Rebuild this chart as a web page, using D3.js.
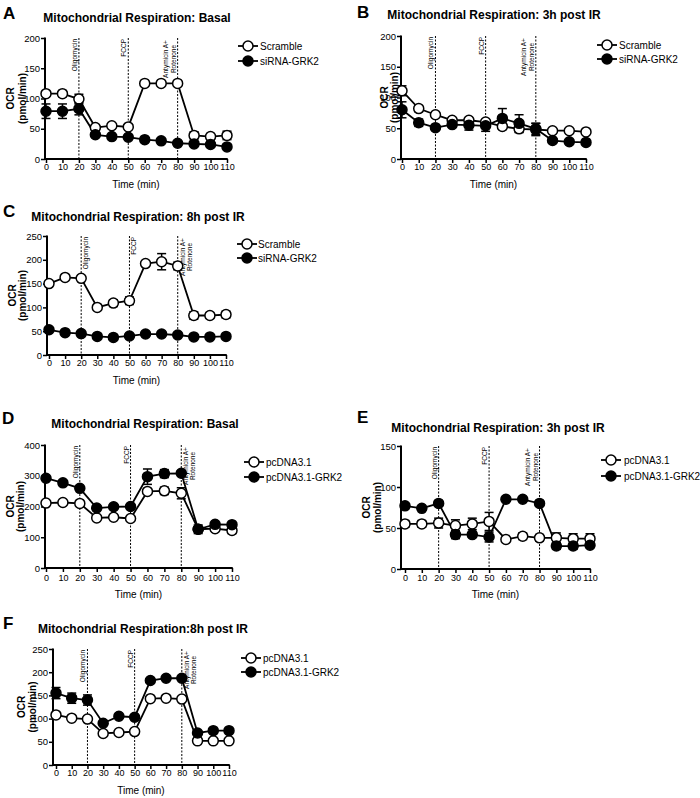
<!DOCTYPE html>
<html><head><meta charset="utf-8">
<script src="https://cdn.jsdelivr.net/npm/d3@7"></script>
<style>
body{margin:0;background:#fff;}
text{font-family:Arial,"Liberation Sans",Helvetica,sans-serif;fill:#000;}
</style></head>
<body><svg id="fig" width="700" height="798"></svg>
<script>
// ---------- DATA ----------
const times = [0,10,20,30,40,50,60,70,80,90,100,110];
const injectTimes = [20,50,80];
const injectLabels = [["Oligomycin"],["FCCP"],["Antymicin A+","Rotenone"]];
const panelLetters = ["A","B","C","D","E","F"];
const panelTitles = [
  "Mitochondrial Respiration: Basal",
  "Mitochondrial Respiration: 3h post IR",
  "Mitochondrial Respiration: 8h post IR",
  "Mitochondrial Respiration: Basal",
  "Mitochondrial Respiration: 3h post IR",
  "Mitochondrial Respiration:8h post IR"
];
const siNames = ["Scramble","siRNA-GRK2"];
const pcNames = ["pcDNA3.1","pcDNA3.1-GRK2"];
const yMaxes = [200,200,250,400,150,250];
const yStepsList = [50,50,50,100,50,50];

const scrambleBasal    = [108,108,99,52,55,53,125,125,125,39,37,39];
const scrambleBasalErr = [4,5,8,4,3,3,2,2,2,6,5,7];
const siGrk2Basal      = [79,79,83,40,37,36,32,30,26,25,24,20];
const siGrk2BasalErr   = [12,12,10,3,2,2,2,2,2,2,2,2];

const scramble3h    = [111,82,72,63,63,60,53,49,48,46,46,44];
const scramble3hErr = [8,5,3,3,3,3,5,6,10,2,2,2];
const siGrk23h      = [80,59,51,56,55,54,66,58,49,30,28,27];
const siGrk23hErr   = [13,6,3,4,8,9,16,14,9,2,2,2];

const scramble8h    = [150,163,161,100,109,114,192,196,187,83,83,85];
const scramble8hErr = [4,3,3,3,7,8,3,17,8,8,6,7];
const siGrk28h      = [53,47,45,39,37,40,44,44,42,38,38,39];
const siGrk28hErr   = [2,2,2,2,2,2,2,2,2,2,2,2];

const pcBasal     = [211,213,210,163,165,161,249,251,243,126,128,122];
const pcBasalErr  = [4,4,4,4,4,4,6,12,18,8,8,10];
const grkBasal    = [292,277,259,195,199,200,297,307,308,126,142,141];
const grkBasalErr = [5,5,5,4,4,4,25,13,8,14,5,5];

const pc3h     = [55,55,56,53,55,58,36,40,38,38,37,37];
const pc3hErr  = [4,4,6,7,7,11,2,4,4,6,6,6];
const grk3h    = [77,74,80,42,42,39,85,85,80,28,28,29];
const grk3hErr = [2,2,2,5,3,6,2,2,2,4,4,3];

const pc8h     = [108,101,99,68,70,72,143,144,142,52,52,52];
const pc8hErr  = [5,3,3,2,2,2,3,3,3,2,2,2];
const grk8h    = [155,144,140,90,105,103,182,187,187,69,74,74];
const grk8hErr = [12,11,11,3,3,3,3,3,3,3,3,3];

const seriesByPanel = [
  [[scrambleBasal,scrambleBasalErr],[siGrk2Basal,siGrk2BasalErr]],
  [[scramble3h,scramble3hErr],[siGrk23h,siGrk23hErr]],
  [[scramble8h,scramble8hErr],[siGrk28h,siGrk28hErr]],
  [[pcBasal,pcBasalErr],[grkBasal,grkBasalErr]],
  [[pc3h,pc3hErr],[grk3h,grk3hErr]],
  [[pc8h,pc8hErr],[grk8h,grk8hErr]]
];
const namesByPanel = [siNames,siNames,siNames,pcNames,pcNames,pcNames];

// ---------- LAYOUT ----------
const layout = [
  {left:45,x0:46,x1:227,top:38,bottom:159,letter:[3,19],title:[137,22],time:184,xPad:1,ocr:[10,22],leg:[248,260,46,61],sides:["l","l","l"]},
  {left:401,x0:402,x1:586,top:36,bottom:159,letter:[357,18],title:[494,19],time:184,xPad:1,ocr:[384,394],leg:[607,619,45,59],sides:["l","l","l"]},
  {left:47,x0:49,x1:226,top:236,bottom:355,letter:[3,217],title:[138,221],time:380,xPad:1,ocr:[12,22],leg:[247,258,244,258],sides:["r","r","r"]},
  {left:45,x0:46,x1:232,top:445,bottom:568,letter:[2,424],title:[145,428],time:594,xPad:3,ocr:[10,20],leg:[254,266,462,477],sides:["l","l","r"]},
  {left:401,x0:405,x1:590,top:446,bottom:569,letter:[357,423],title:[498,432],time:594,xPad:2,ocr:[366,377],leg:[611,624,460,476],sides:["l","l","l"]},
  {left:53,x0:56,x1:229,top:649,bottom:765,letter:[3,629],title:[143,633],time:790,xPad:1,ocr:[21,32],leg:[251,263,658,672],sides:["l","l","r"]}
];

const svg = d3.select("#fig");
const R = 5;

function drawPanel(i){
  const L = layout[i];
  const g = svg.append("g");
  const x = d3.scaleLinear().domain([0,110]).range([L.x0,L.x1]);
  const y = d3.scaleLinear().domain([0,yMaxes[i]]).range([L.bottom,L.top]);
  const yt = d3.range(0,yMaxes[i]+1,yStepsList[i]);

  g.append("text").attr("x",L.letter[0]).attr("y",L.letter[1]).attr("font-size",17).attr("font-weight","bold").text(panelLetters[i]);
  g.append("text").attr("x",L.title[0]).attr("y",L.title[1]).attr("text-anchor","middle").attr("font-size",12).attr("font-weight","bold").text(panelTitles[i]);

  const ya = g.append("g").attr("transform",`translate(${L.left},0)`)
    .call(d3.axisLeft(y).tickValues(yt).tickSize(4).tickPadding(1).tickSizeOuter(0));
  ya.select(".domain").remove();
  ya.selectAll("line").attr("stroke-width",1.5);
  ya.selectAll("text").attr("font-size",9.5).attr("font-family","Arial, 'Liberation Sans', sans-serif");
  g.append("line").attr("x1",L.left).attr("x2",L.left).attr("y1",y(yMaxes[i])-0.5).attr("y2",L.bottom+1).attr("stroke","#000").attr("stroke-width",2);

  const xa = g.append("g").attr("transform",`translate(0,${L.bottom})`)
    .call(d3.axisBottom(x).tickValues(times).tickSize(4).tickPadding(L.xPad).tickSizeOuter(0));
  xa.select(".domain").remove();
  xa.selectAll("line").attr("stroke-width",1.5);
  xa.selectAll("text").attr("font-size",9).attr("font-family","Arial, 'Liberation Sans', sans-serif");
  g.append("line").attr("x1",L.left-1).attr("x2",x(110)+0.75).attr("y1",L.bottom).attr("y2",L.bottom).attr("stroke","#000").attr("stroke-width",2);

  const my = (L.top+L.bottom)/2;
  g.append("text").attr("transform",`translate(${L.ocr[0]+4},${my}) rotate(-90)`).attr("text-anchor","middle").attr("font-size",10).attr("font-weight","bold").text("OCR");
  g.append("text").attr("transform",`translate(${L.ocr[1]+4},${my}) rotate(-90)`).attr("text-anchor","middle").attr("font-size",10).attr("font-weight","bold").text("(pmol/min)");
  g.append("text").attr("x",(L.left+x(110))/2).attr("y",L.time+3.5).attr("text-anchor","middle").attr("font-size",10).text("Time (min)");

  injectTimes.forEach((t,k)=>{
    const lx = x(t);
    g.append("line").attr("x1",lx).attr("x2",lx).attr("y1",L.top).attr("y2",L.bottom)
      .attr("stroke","#000").attr("stroke-width",1).attr("stroke-dasharray","2,1.5");
    const lines = injectLabels[k];
    lines.forEach((s,j)=>{
      let bx;
      if(L.sides[k]==="l") bx = lx - 2 - (lines.length-1-j)*8;
      else bx = lx + 7 + j*7;
      g.append("text").attr("transform",`translate(${bx},${L.top+1}) rotate(-90)`)
        .attr("text-anchor",lines.length>1?"middle":"end").attr("font-size",6.5)
        .attr("dx", lines.length>1 ? -20 : 0)
        .text(s);
    });
  });

  const ser = seriesByPanel[i];
  const line = d3.line().x((d,k)=>x(times[k])).y(d=>y(d));
  ser.forEach(([vals])=>{
    g.append("path").datum(vals).attr("d",line).attr("fill","none").attr("stroke","#000").attr("stroke-width",1.8);
  });
  ser.forEach(([vals,errs])=>{
    vals.forEach((v,k)=>{
      const cx = x(times[k]), y1 = y(v+errs[k]), y2 = y(v-errs[k]);
      g.append("line").attr("x1",cx).attr("x2",cx).attr("y1",y1).attr("y2",y2).attr("stroke","#000").attr("stroke-width",1.5);
      [y1,y2].forEach(yy=>g.append("line").attr("x1",cx-4.5).attr("x2",cx+4.5).attr("y1",yy).attr("y2",yy).attr("stroke","#000").attr("stroke-width",1.5));
    });
  });
  ser.forEach(([vals],s)=>{
    g.selectAll(null).data(vals).enter().append("circle")
      .attr("cx",(d,k)=>x(times[k])).attr("cy",d=>y(d)).attr("r",R)
      .attr("fill",s===0?"#fff":"#000").attr("stroke","#000").attr("stroke-width",1.5);
  });

  const nm = namesByPanel[i];
  [0,1].forEach(s=>{
    const ly = L.leg[2+s];
    g.append("line").attr("x1",L.leg[0]-10).attr("x2",L.leg[0]+10).attr("y1",ly).attr("y2",ly).attr("stroke","#000").attr("stroke-width",1.8);
    g.append("circle").attr("cx",L.leg[0]).attr("cy",ly).attr("r",R).attr("fill",s===0?"#fff":"#000").attr("stroke","#000").attr("stroke-width",1.5);
    g.append("text").attr("x",L.leg[1]).attr("y",ly+3.5).attr("font-size",10).text(nm[s]);
  });
}

for(let i=0;i<6;i++) drawPanel(i);
</script></body></html>
